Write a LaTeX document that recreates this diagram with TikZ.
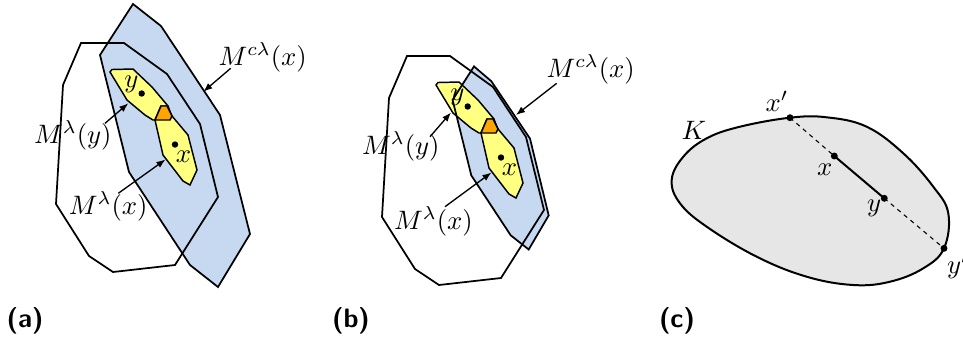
\documentclass[tikz,border=0pt]{standalone}
\usetikzlibrary{arrows.meta}
\definecolor{cblue}{RGB}{198,217,240}
\definecolor{cyel}{RGB}{255,255,128}
\definecolor{corg}{RGB}{255,165,0}
\definecolor{cgray}{RGB}{230,230,230}
\tikzset{
  poly/.style={draw=black, line width=0.65pt, line join=miter},
  bluereg/.style={fill=cblue},
  yelreg/.style={poly, fill=cyel, line width=0.55pt},
  orgreg/.style={poly, fill=corg, line width=0.55pt},
  pdot/.style={circle, fill=black, inner sep=0pt, minimum size=2.4pt},
  lab/.style={anchor=base west, inner sep=0pt},
  clab/.style={anchor=center, inner sep=0pt},
  arr/.style={-{Latex[length=3.4pt,width=2.6pt]}, line width=0.5pt},
  capt/.style={anchor=center, inner sep=0pt, font=\sffamily\bfseries},
  thinseg/.style={line width=0.4pt, dash pattern=on 1.6pt off 1.6pt},
  thickseg/.style={line width=0.75pt}
}
\begin{document}
\begin{tikzpicture}[x=0.375pt,y=-0.375pt]
\useasboundingbox (0,0) rectangle (963,338);

% ---------------- panel (a) ----------------
\fill[cblue] (133,4)--(161,26)--(220,115)--(250,234)--(218,287)--(190,265)--(129,172)--(100,55)--cycle;
\draw[yelreg] (110,72)--(112,69.5)--(133,69)--(152,87)--(168,106)--(172,117)--(170,120)--(153,120)--(145,115)--(127,100)--cycle;
\draw[yelreg] (155,120)--(161,106)--(167,106)--(172,116)--(188,135)--(197,170)--(190,185)--(183,181)--(163,155)--cycle;
\draw[orgreg] (155,120)--(161,106)--(167,106)--(172,116)--(170,120)--cycle;
\draw[poly] (133,4)--(161,26)--(220,115)--(250,234)--(218,287)--(190,265)--(129,172)--(100,55)--cycle;
\draw[poly] (81,43)--(124,43)--(167,74)--(200,124)--(218,197)--(175,265)--(113,272)--(89,256)--(56,204)--(63,85)--cycle;
\node[pdot] (ay) at (141.7,93.5) {};
\node[pdot] (ax) at (175,144.5) {};
\node[clab] (ayl) at (131.5,84) {$y$};
\node[clab] (axl) at (183.5,156.5) {$x$};
\node[lab] (amc) at (218,65) {$M^{c\lambda}(x)$};
\node[lab] (amy) at (33.5,143.3) {$M^{\lambda}(y)$};
\node[lab] (amx) at (68.3,214) {$M^{\lambda}(x)$};
\coordinate (amcs) at (230.7,68.3);
\coordinate (amct) at (203.3,91.7);
\coordinate (amys) at (105,123.3);
\coordinate (amyt) at (128.3,103.3);
\coordinate (amxs) at (118.3,193.3);
\coordinate (amxt) at (165.5,159.5);
\draw[arr] (amcs) -- (amct);
\draw[arr] (amys) -- (amyt);
\draw[arr] (amxs) -- (amxt);
\node[capt] (capa) at (25,321) {(a)};

% ---------------- panel (b) ----------------
\fill[cblue] (474,66.4)--(491.3,81.2)--(530,138.6)--(548.7,215.4)--(528.7,249.5)--(510.7,235.3)--(471.3,175.4)--(452.6,99.9)--cycle;
\begin{scope}[shift={(326,13)}]
\draw[yelreg] (110,72)--(112,69.5)--(133,69)--(152,87)--(168,106)--(172,117)--(170,120)--(153,120)--(145,115)--(127,100)--cycle;
\draw[yelreg] (155,120)--(161,106)--(167,106)--(172,116)--(188,135)--(197,170)--(190,185)--(183,181)--(163,155)--cycle;
\draw[orgreg] (155,120)--(161,106)--(167,106)--(172,116)--(170,120)--cycle;
\end{scope}
\draw[poly] (474,66.4)--(491.3,81.2)--(530,138.6)--(548.7,215.4)--(528.7,249.5)--(510.7,235.3)--(471.3,175.4)--(452.6,99.9)--cycle;
\begin{scope}[shift={(326,13)}]
\draw[poly] (81,43)--(124,43)--(167,74)--(200,124)--(218,197)--(175,265)--(113,272)--(89,256)--(56,204)--(63,85)--cycle;
\node[pdot] (by) at (141.7,93.5) {};
\node[pdot] (bx) at (175,144.5) {};
\node[clab] (byl) at (131.5,84) {$y$};
\node[clab] (bxl) at (183.5,156.5) {$x$};
\end{scope}
\node[lab] (bmc) at (546,77) {$M^{c\lambda}(x)$};
\node[lab] (bmy) at (361.5,154) {$M^{\lambda}(y)$};
\node[lab] (bmx) at (393.5,229) {$M^{\lambda}(x)$};
\coordinate (bmcs) at (556.7,83.3);
\coordinate (bmct) at (516,115);
\coordinate (bmys) at (430,136.7);
\coordinate (bmyt) at (451,112.5);
\coordinate (bmxs) at (445,206.7);
\coordinate (bmxt) at (491.5,172.5);
\draw[arr] (bmcs) -- (bmct);
\draw[arr] (bmys) -- (bmyt);
\draw[arr] (bmxs) -- (bmxt);
\node[capt] (capb) at (351,321) {(b)};

% ---------------- panel (c) ----------------
\draw[fill=cgray, line width=0.75pt] plot[smooth cycle, tension=0.65] coordinates {
 (671.7,180) (683.3,156.7) (706.7,138.3) (740,126.7) (790,117.7) (826.7,117.3)
 (866.7,126.7) (903.3,153.3) (933.3,186.7) (948.3,213.3) (944,248.3)
 (923.3,268.3) (890,281.7) (853.3,285) (806.7,276.7) (756.7,256.7)
 (706.7,226.7) (680,203.3)};
\node[pdot, minimum size=2.6pt] (cxp) at (790,117.7) {};
\node[pdot, minimum size=2.6pt] (cx) at (834.3,156) {};
\node[pdot, minimum size=2.6pt] (cy) at (884.3,198.3) {};
\node[pdot, minimum size=2.6pt] (cyp) at (944,248.3) {};
\draw[thinseg] (cxp.center) -- (cx.center);
\draw[thickseg] (cx.center) -- (cy.center);
\draw[thinseg] (cy.center) -- (cyp.center);
\node[lab] (cxpl) at (765,111.5) {$x'$};
\node[lab] (cK) at (681,139.3) {$K$};
\node[lab] (cxl) at (816.5,175) {$x$};
\node[lab] (cyl) at (866.5,211) {$y$};
\node[lab] (cypl) at (946.5,273) {$y'$};
\node[capt] (capc) at (677,321) {(c)};
\end{tikzpicture}
\end{document}
